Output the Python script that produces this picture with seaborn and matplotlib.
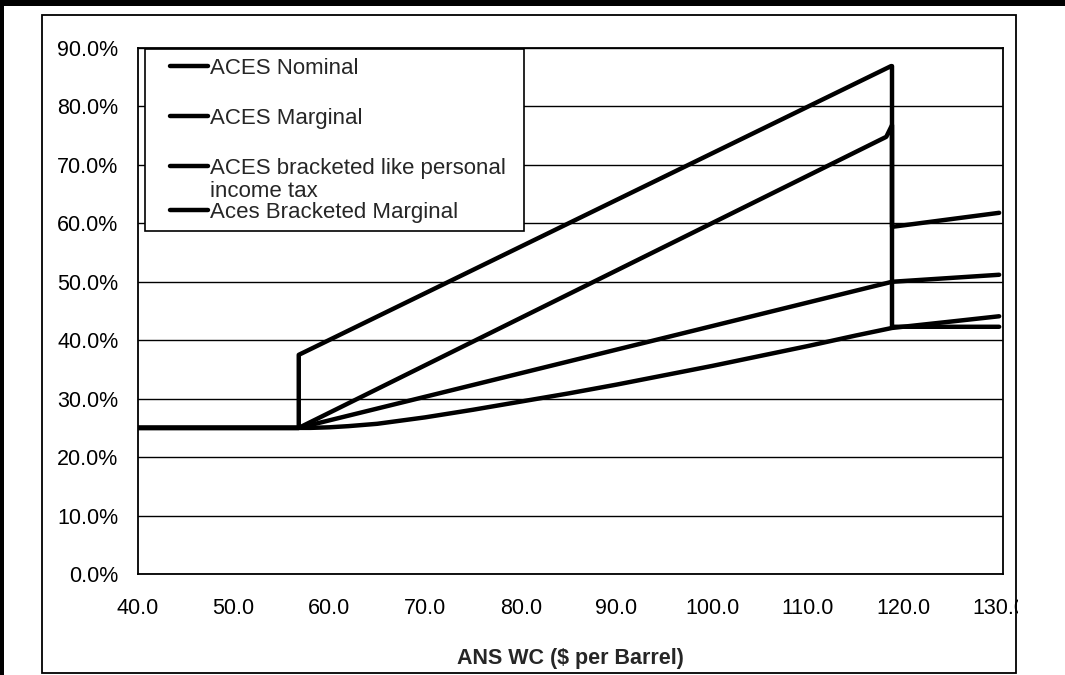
import matplotlib
matplotlib.use("Agg")
import matplotlib.pyplot as plt
import seaborn as sns
from matplotlib.lines import Line2D
from matplotlib.patches import Rectangle
from matplotlib.legend_handler import HandlerLine2D
from matplotlib.offsetbox import VPacker

# ---------------- data ----------------
series_labels = ["ACES Nominal", "ACES Marginal",
                 "ACES bracketed like personal\nincome tax", "Aces Bracketed Marginal"]

nominal_x = [40.0, 56.8, 56.8, 118.7, 118.8, 118.8, 130.0]
nominal_y = [25.0, 25.0, 37.5, 86.9, 86.9, 42.3, 42.3]

marginal_x = [40.0, 56.8, 118.2, 118.8, 118.8, 130.0]
marginal_y = [25.0, 25.0, 74.8, 76.8, 59.4, 61.8]

bracket_x = [40.0, 56.8, 118.8, 130.0]
bracket_y = [25.0, 25.0, 50.0, 51.2]

brmarg_x = [40.0, 58.0, 60.0, 62.0, 65.0, 70.0, 75.0, 80.0, 85.0, 90.0, 95.0,
            100.0, 105.0, 110.0, 115.0, 118.8, 125.0, 130.0]
brmarg_y = [25.0, 25.0, 25.1, 25.3, 25.7, 26.8, 28.1, 29.5, 30.9, 32.4, 34.0,
            35.6, 37.3, 39.0, 40.8, 42.1, 43.2, 44.1]

x_ticks = [40, 50, 60, 70, 80, 90, 100, 110, 120, 130]
x_tick_labels = ["40.0", "50.0", "60.0", "70.0", "80.0", "90.0", "100.0",
                 "110.0", "120.0", "130.0"]
y_ticks = [0, 10, 20, 30, 40, 50, 60, 70, 80, 90]
y_tick_labels = ["0.0%", "10.0%", "20.0%", "30.0%", "40.0%", "50.0%", "60.0%",
                 "70.0%", "80.0%", "90.0%"]
x_label = "ANS WC (\\$ per Barrel)"

# ---------------- style ----------------
sns.set_style("white")
plt.rcParams["font.family"] = ["Liberation Sans", "DejaVu Sans"]
plt.rcParams["font.size"] = 15.5

W, H = 1065, 675
fig = plt.figure(figsize=(W / 100, H / 100), dpi=100)
ax = fig.add_axes([138 / W, 1 - 574 / H, (1003 - 138) / W, (574 - 48) / H])

series = [(nominal_x, nominal_y), (marginal_x, marginal_y),
          (bracket_x, bracket_y), (brmarg_x, brmarg_y)]
for (xs, ys), lab in zip(series, series_labels):
    sns.lineplot(x=xs, y=ys, ax=ax, sort=False, estimator=None, color="black",
                 linewidth=3.2, label=lab, legend=False)

ax.set_xlim(40, 130.4)
ax.set_ylim(0, 90)
ax.set_xticks(x_ticks)
ax.set_xticklabels(x_tick_labels)
ax.set_yticks(y_ticks)
ax.set_yticklabels(y_tick_labels)
ax.tick_params(axis="both", direction="out", length=5, width=1.0, color="black",
               labelsize=15.5, labelcolor="black")
ax.tick_params(axis="y", pad=9)
ax.tick_params(axis="x", pad=12)
ax.yaxis.grid(True, color="black", linewidth=1.0)
ax.xaxis.grid(False)
ax.set_axisbelow(True)
for sp in ax.spines.values():
    sp.set_visible(True)
    sp.set_color("black")
    sp.set_linewidth(1.3)
ax.set_xlabel(x_label, fontsize=15.5, fontweight="bold", labelpad=21)
ax.set_ylabel("")

# ---------------- legend ----------------
lines = ax.get_lines()
blank = Line2D([], [], color="none")
lab3a, lab3b = series_labels[2].split("\n")
handles = [lines[0], lines[1], lines[2], blank, lines[3]]
labels = [series_labels[0], series_labels[1], lab3a, lab3b, series_labels[3]]
leg = ax.legend(handles, labels, loc="upper left",
                bbox_to_anchor=(0.008, 0.648, 0.438, 0.35), mode="expand",
                borderaxespad=0, borderpad=0.4, labelspacing=1.31,
                handlelength=2.45, handletextpad=0.1, frameon=True, fancybox=False,
                edgecolor="black", framealpha=1, fontsize=16,
                handler_map={Line2D: HandlerLine2D(xpad=0.75)})
leg.get_frame().set_linewidth(1.2)
try:
    col = leg._legend_handle_box.get_children()[0]
    items = list(col.get_children())
    sub_a = VPacker(pad=0, sep=1, align="left", children=items[2:4])
    sub = VPacker(pad=0, sep=0, align="left", children=[sub_a, items[4]])
    sub_a.set_figure(fig)
    sub.set_figure(fig)
    col._children = items[:2] + [sub]
except Exception:
    pass

# ---------------- page decorations (scanned chart frame) ----------------
fig.patches.append(Rectangle((1018 / W, 0), (W - 1018) / W, 1, transform=fig.transFigure,
                             facecolor="white", edgecolor="none", zorder=5))
fig.patches.append(Rectangle((42 / W, 1 - 673 / H), (1016 - 42) / W, (673 - 15) / H,
                             transform=fig.transFigure, facecolor="none",
                             edgecolor="black", linewidth=1.3, zorder=6))
fig.patches.append(Rectangle((0, 1 - 6 / H), 1, 6 / H, transform=fig.transFigure,
                             facecolor="black", edgecolor="none", zorder=6))
fig.patches.append(Rectangle((0, 0), 4 / W, 1, transform=fig.transFigure,
                             facecolor="black", edgecolor="none", zorder=6))

fig.savefig("out.png", dpi=100)
